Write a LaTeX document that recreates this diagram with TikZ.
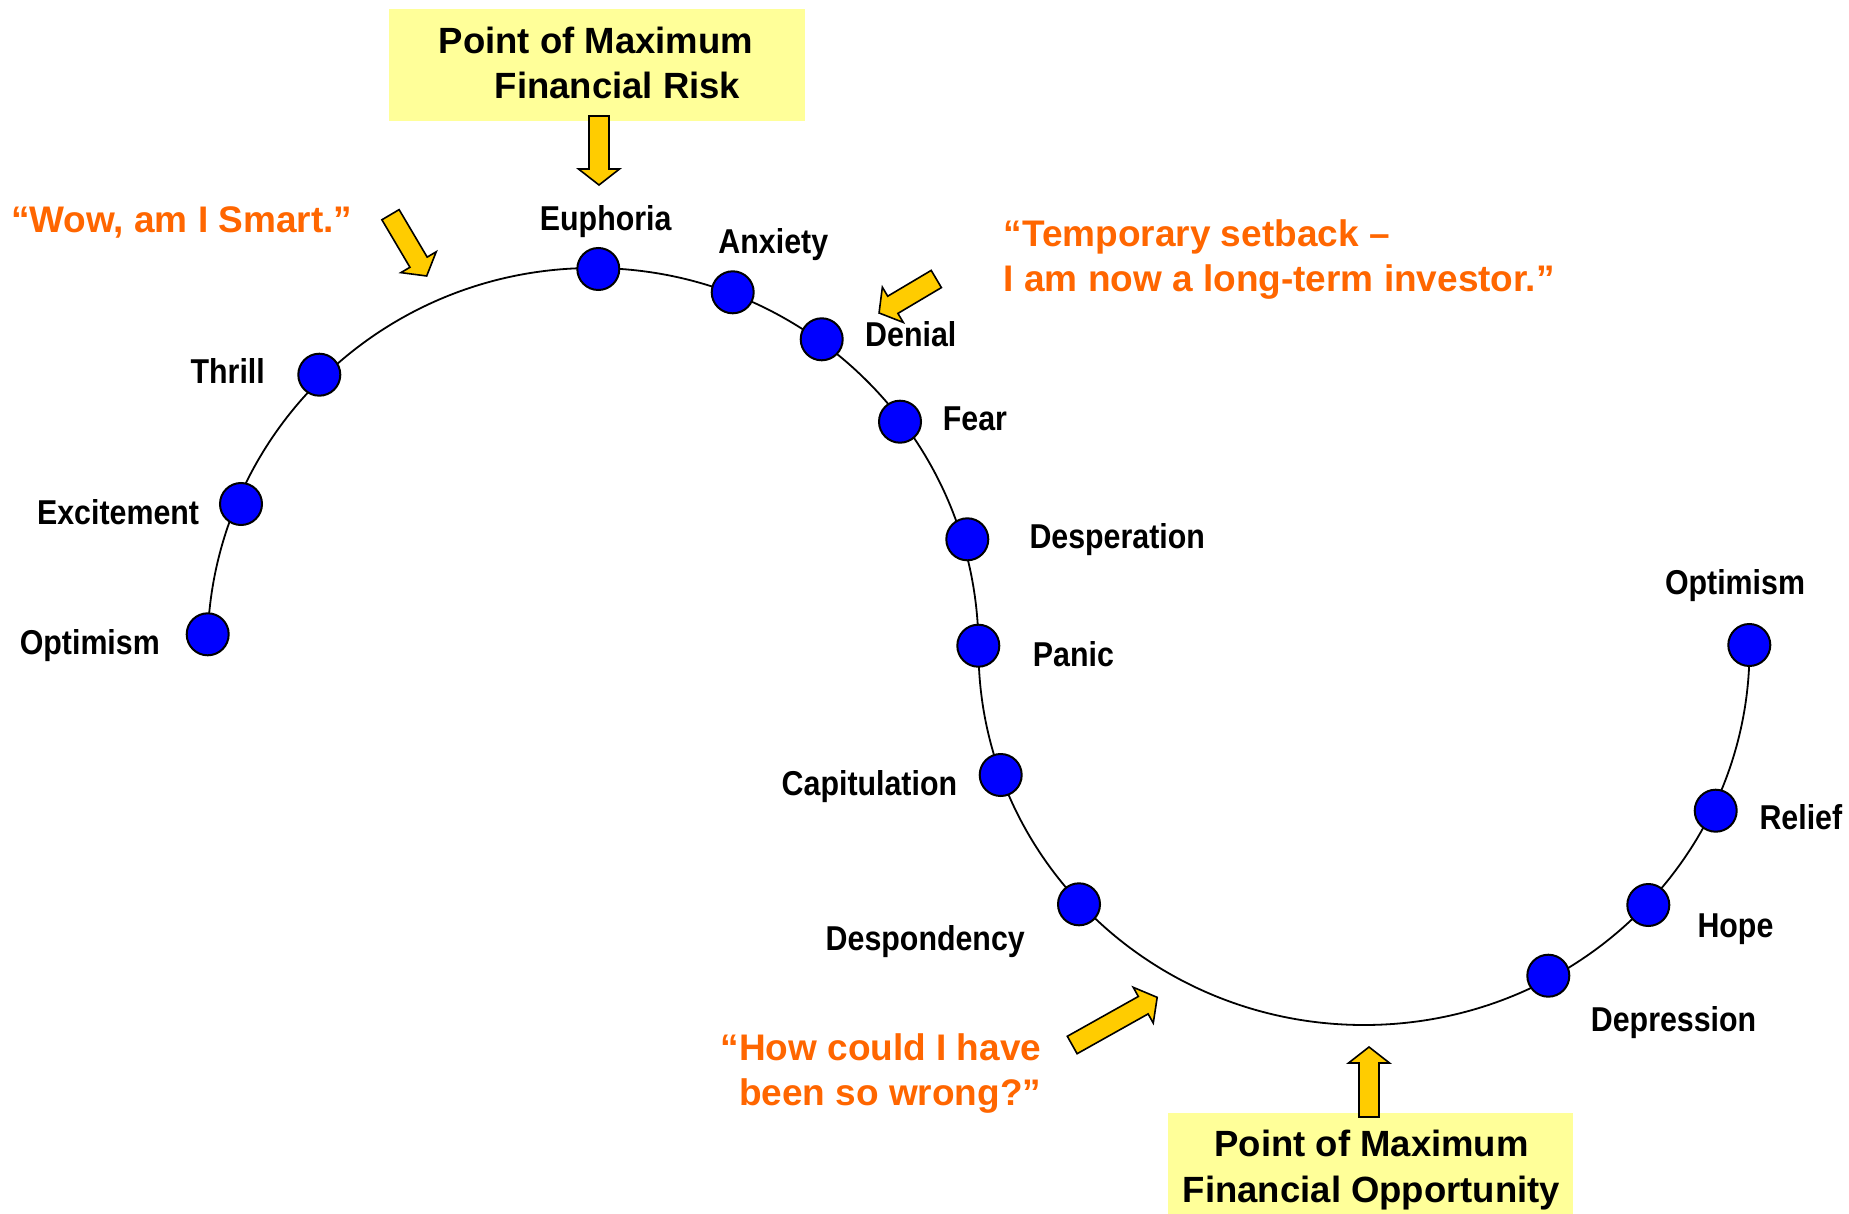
\documentclass[tikz,border=0pt]{standalone}
\usepackage{fontspec}
\setmainfont{Liberation Sans}
\newfontfamily\lblfont[FakeStretch=0.88]{Liberation Sans}
\definecolor{dotblue}{HTML}{0000FF}
\definecolor{boxyellow}{HTML}{FFFF99}
\definecolor{arrowgold}{HTML}{FFCC00}
\definecolor{quoteorange}{HTML}{FF6600}
% block arrow from tail (#1,#2) to tip (#3,#4), coordinates in px
\newcommand\yarrow[4]{%
  \pgfmathsetmacro\arrang{atan2(-(#4-#2),#3-#1)}%
  \pgfmathsetmacro\arrlen{veclen(#3-#1,#4-#2)}%
  \pgfmathsetmacro\arrhb{\arrlen-16}%
  \draw[yarr,shift={(#1,#2)},rotate=\arrang]
    (0,-10) -- (\arrhb,-10) -- (\arrhb,-20.5) -- (\arrlen,0) -- (\arrhb,20.5) -- (\arrhb,10) -- (0,10) -- cycle;}
\begin{document}
\begin{tikzpicture}[x=1pt,y=-1pt,
  dot/.style={circle,fill=dotblue,draw=black,line width=2pt,minimum size=42pt,inner sep=0pt},
  lbl/.style={inner sep=0pt,font=\lblfont\bfseries\fontsize{34.5}{38}\selectfont},
  quote/.style={inner sep=0pt,text=quoteorange,font=\bfseries\fontsize{37}{45}\selectfont},
  boxtext/.style={inner sep=0pt,font=\bfseries\fontsize{36.5}{45}\selectfont},
  opptext/.style={inner sep=0pt,font=\bfseries\fontsize{36.5}{45.5}\selectfont},
  infobox/.style={fill=boxyellow,draw=none,inner sep=0pt},
  curve/.style={line width=1.8pt,draw=black},
  yarr/.style={fill=arrowgold,draw=black,line width=1.6pt,line join=miter}]
\useasboundingbox[fill=white] (0,0) rectangle (1849,1214);

% boxes
\node[infobox,minimum width=416pt,minimum height=112pt] (riskbox) at (597,65) {};
\node[infobox,minimum width=405pt,minimum height=110pt] (oppbox) at (1370,1167.7) {};
\node[boxtext,anchor=base west] (risktext) at (438.5,53.3)
  {\begin{tabular}[t]{@{}l@{}}Point of Maximum\\\hspace*{56pt}Financial Risk\end{tabular}};
\node[opptext,anchor=base] (opptxt) at (1371.5,1156.7)
  {\begin{tabular}[t]{@{}c@{}}Point of Maximum\\Financial Opportunity\end{tabular}};

% curve
\coordinate (cstart) at (207.5,649);
\draw[curve] (cstart) arc[start angle=180,end angle=0,x radius=385.5pt,y radius=381pt]
  arc[start angle=180,end angle=360,x radius=385.5pt,y radius=376pt];

% dots
\node[dot] (optL) at (207.7,634.3) {};
\node[dot] (excite) at (241,504) {};
\node[dot] (thrill) at (319.3,374.7) {};
\node[dot] (euph) at (598.3,269) {};
\node[dot] (anx) at (732.7,292.3) {};
\node[dot] (denial) at (821.7,339.3) {};
\node[dot] (fear) at (900,421.7) {};
\node[dot] (desp) at (967.3,539.3) {};
\node[dot] (panic) at (978.3,645.7) {};
\node[dot] (capit) at (1000.7,775) {};
\node[dot] (despond) at (1079,904.3) {};
\node[dot] (depress) at (1548.3,975.7) {};
\node[dot] (hope) at (1648.3,905) {};
\node[dot] (relief) at (1715.7,810.7) {};
\node[dot] (optR) at (1749.3,645) {};

% labels
\node[lbl,anchor=base east] (loptL) at (160,654.3) {Optimism};
\node[lbl,anchor=base east] (lexcite) at (199.3,524.3) {Excitement};
\node[lbl,anchor=base east] (lthrill) at (265,383.3) {Thrill};
\node[lbl,anchor=base] (leuph) at (605.7,231) {Euphoria};
\node[lbl,anchor=base] (lanx) at (773.3,253.3) {Anxiety};
\node[lbl,anchor=base west] (ldenial) at (865,346.7) {Denial};
\node[lbl,anchor=base west] (lfear) at (942.7,430.7) {Fear};
\node[lbl,anchor=base west] (ldesp) at (1029.3,548.3) {Desperation};
\node[lbl,anchor=base west] (lpanic) at (1032.7,666.7) {Panic};
\node[lbl,anchor=base east] (lcapit) at (957.3,795) {Capitulation};
\node[lbl,anchor=base east] (ldespond) at (1025,950) {Despondency};
\node[lbl,anchor=base west] (ldepress) at (1590.7,1031.7) {Depression};
\node[lbl,anchor=base west] (lhope) at (1697.3,937.3) {Hope};
\node[lbl,anchor=base west] (lrelief) at (1759.3,829.3) {Relief};
\node[lbl,anchor=base] (loptR) at (1735,594.3) {Optimism};

% quotes
\node[quote,anchor=base] (wowq) at (181.7,232.7) {“Wow, am I Smart.”};
\node[quote,anchor=base west] (tempq) at (1003.5,247)
  {\begin{tabular}[t]{@{}l@{}}“Temporary setback –\\I am now a long-term investor.”\end{tabular}};
\node[quote,anchor=base east] (howq) at (1041.5,1060)
  {\begin{tabular}[t]{@{}r@{}}“How could I have\\been so wrong?”\end{tabular}};

% block arrows
\yarrow{599}{116}{599}{185}
\yarrow{1369}{1117}{1369}{1047}
\yarrow{390.5}{214.7}{426.7}{276}
\yarrow{936.3}{279}{879}{313}
\yarrow{1072.2}{1045}{1157.3}{997.3}
\end{tikzpicture}
\end{document}
